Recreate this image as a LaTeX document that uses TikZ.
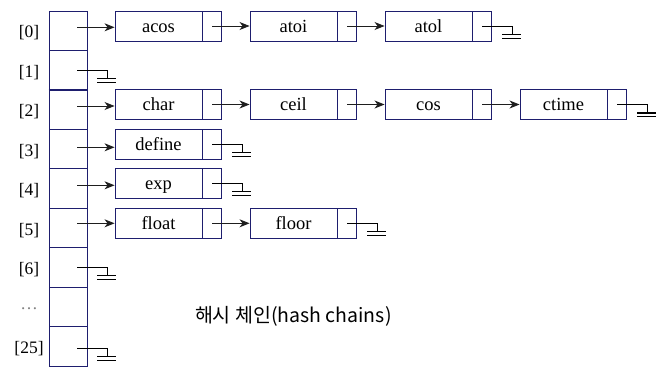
\documentclass[tikz,border=0pt]{standalone}
\usepackage{fontspec}
\setmainfont{Liberation Serif}
\newfontfamily\krfont{Noto Sans CJK KR}
\usetikzlibrary{arrows.meta}
\definecolor{navy}{RGB}{30,30,110}
\definecolor{arrowgray}{RGB}{30,30,30}
\tikzset{
  cellbox/.style={draw=navy, line width=0.9pt, minimum width=38pt, minimum height=39.44pt, inner sep=0pt},
  databox/.style={draw=navy, line width=0.9pt, minimum width=87pt, minimum height=30pt, inner sep=0pt, text height=13pt, text depth=1pt, font=\fontsize{18.5}{20}\selectfont},
  ptrbox/.style={draw=navy, line width=0.9pt, minimum width=19pt, minimum height=30pt, inner sep=0pt},
  idx/.style={font=\fontsize{17.5}{19}\selectfont, inner sep=0pt},
  arr/.style={draw=arrowgray, line width=0.9pt, -{Stealth[length=10pt,width=8pt,inset=3pt]}},
  gnd/.pic={\draw[line width=0.9pt] (0,0) -- (30,0) -- (30,8.5);
            \draw[line width=1.2pt] (20,8.5) -- (39,8.5) (20,12.2) -- (39,12.2);}
}
\begin{document}
\begin{tikzpicture}[x=1pt,y=-1pt]
\useasboundingbox (0,0) rectangle (666,384);
% array cells
\foreach \i in {0,...,8}{
  \node[cellbox] (cell\i) at (68, {30.72+39.44*\i}) {};
}
\draw[navy, line width=1.8pt] (cell1.south west) -- (cell1.south east);
% index labels
\node[idx] (l0) at (29, 33) {[0]};
\node[idx] (l1) at (29, 72.5) {[1]};
\node[idx] (l2) at (29, 112) {[2]};
\node[idx] (l3) at (29, 151.5) {[3]};
\node[idx] (l4) at (29, 191) {[4]};
\node[idx] (l5) at (29, 230.5) {[5]};
\node[idx] (l6) at (29, 270) {[6]};
\node[idx, text=gray] (l7) at (29, 309) {\ldots};
\node[idx] (l8) at (29, 348.5) {[25]};
% row 0
\node[databox] (acos) at (158.5, 26) {acos};
\node[ptrbox, anchor=west] (acosp) at (acos.east) {};
\node[databox] (atoi) at (293.5, 26) {atoi};
\node[ptrbox, anchor=west] (atoip) at (atoi.east) {};
\node[databox] (atol) at (428.5, 26) {atol};
\node[ptrbox, anchor=west] (atolp) at (atol.east) {};
% row 2
\node[databox] (char) at (158.5, 104.5) {char};
\node[ptrbox, anchor=west] (charp) at (char.east) {};
\node[databox] (ceil) at (293.5, 104.5) {ceil};
\node[ptrbox, anchor=west] (ceilp) at (ceil.east) {};
\node[databox] (cos) at (428.5, 104.5) {cos};
\node[ptrbox, anchor=west] (cosp) at (cos.east) {};
\node[databox] (ctime) at (563.5, 104.5) {ctime};
\node[ptrbox, anchor=west] (ctimep) at (ctime.east) {};
% rows 3-5
\node[databox] (define) at (158.5, 144.3) {define};
\node[ptrbox, anchor=west] (definep) at (define.east) {};
\node[databox] (exp) at (158.5, 183.3) {exp};
\node[ptrbox, anchor=west] (expp) at (exp.east) {};
\node[databox] (float) at (158.5, 223.3) {float};
\node[ptrbox, anchor=west] (floatp) at (float.east) {};
\node[databox] (floor) at (293.5, 223.3) {floor};
\node[ptrbox, anchor=west] (floorp) at (floor.east) {};
% start coordinates in cells
\coordinate (s0) at (77, 27.3);
\coordinate (s1) at (77, 70.3);
\coordinate (s2) at (77, 106);
\coordinate (s3) at (77, 147.3);
\coordinate (s4) at (77, 185.3);
\coordinate (s5) at (77, 223.3);
\coordinate (s6) at (77, 267.3);
\coordinate (s8) at (77, 348.3);
% arrows from table
\draw[arr] (s0) -- (s0 -| acos.west);
\draw[arr] (s2) -- (s2 -| char.west);
\draw[arr] (s3) -- (s3 -| define.west);
\draw[arr] (s4) -- (s4 -| exp.west);
\draw[arr] (s5) -- (s5 -| float.west);
% arrows between list nodes
\draw[arr] (acosp.center) -- (atoi.west);
\draw[arr] (atoip.center) -- (atol.west);
\draw[arr] (charp.center) -- (ceil.west);
\draw[arr] (ceilp.center) -- (cos.west);
\draw[arr] (cosp.center) -- (ctime.west);
\draw[arr] (floatp.center) -- (floor.west);
% null ends
\pic at (s1) {gnd};
\pic at (s6) {gnd};
\pic at (s8) {gnd};
\pic at (atolp.center) {gnd};
\pic at (ctimep.center) {gnd};
\pic at (definep.center) {gnd};
\pic at (expp.center) {gnd};
\pic at (floorp.center) {gnd};
% caption
\node[font=\krfont\fontsize{19.5}{22}\selectfont, inner sep=0pt] (cap) at (293.3, 316) {해시 체인(hash chains)};
\end{tikzpicture}
\end{document}
